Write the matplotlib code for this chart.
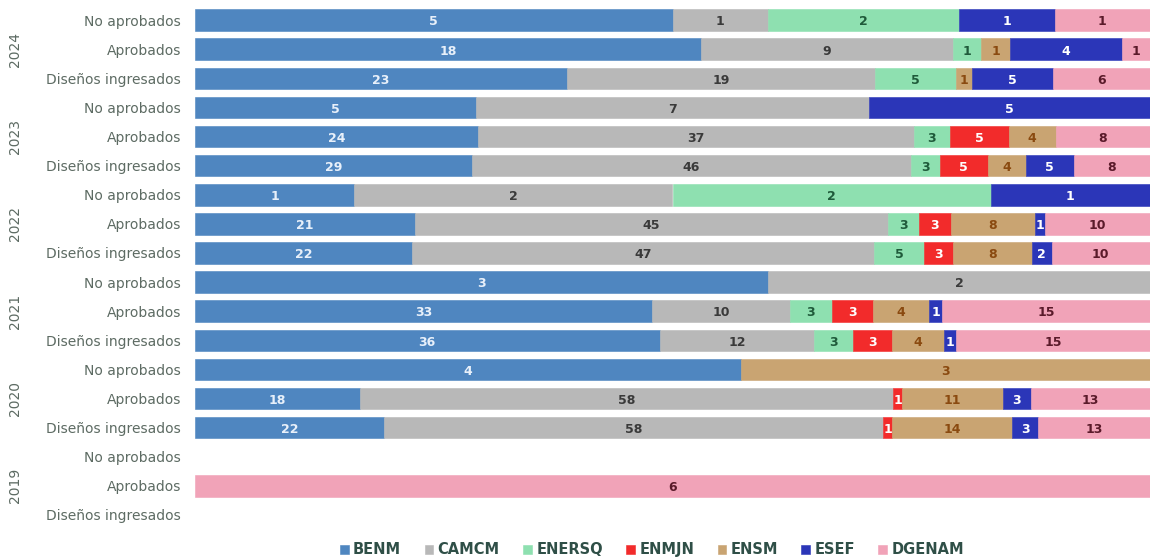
import matplotlib
matplotlib.use("Agg")
import matplotlib.pyplot as plt
import matplotlib.transforms as mtransforms
import numpy as np

# rows from top to bottom
years = ["2024", "2023", "2022", "2021", "2020", "2019"]
stages = ["No aprobados", "Aprobados", "Diseños ingresados"]

series = ["BENM", "CAMCM", "ENERSQ", "ENMJN", "ENSM", "ESEF", "DGENAM"]

# each list: one value per row (year x stage), top to bottom
BENM = [5, 18, 23, 5, 24, 29, 1, 21, 22, 3, 33, 36, 4, 18, 22, 0, 0, 0]
CAMCM = [1, 9, 19, 7, 37, 46, 2, 45, 47, 2, 10, 12, 0, 58, 58, 0, 0, 0]
ENERSQ = [2, 1, 5, 0, 3, 3, 2, 3, 5, 0, 3, 3, 0, 0, 0, 0, 0, 0]
ENMJN = [0, 0, 0, 0, 5, 5, 0, 3, 3, 0, 3, 3, 0, 1, 1, 0, 0, 0]
ENSM = [0, 1, 1, 0, 4, 4, 0, 8, 8, 0, 4, 4, 3, 11, 14, 0, 0, 0]
ESEF = [1, 4, 5, 5, 0, 5, 1, 1, 2, 0, 1, 1, 0, 3, 3, 0, 0, 0]
DGENAM = [1, 1, 6, 0, 8, 8, 0, 10, 10, 0, 15, 15, 0, 13, 13, 0, 6, 0]

colors = ["#4f86c0", "#b8b8b8", "#8ee0b0", "#f22b2b", "#c9a472", "#2b36b8", "#f1a3b8"]
text_colors = ["#e8f0fa", "#3a3a3a", "#1f5a3a", "#ffffff", "#8a4a10", "#ffffff", "#5a1a2a"]

data = np.array([BENM, CAMCM, ENERSQ, ENMJN, ENSM, ESEF, DGENAM], dtype=float)
totals = data.sum(axis=0)
share = np.divide(data, totals, out=np.zeros_like(data), where=totals > 0)

plt.rcParams['font.family'] = ['DejaVu Sans']

fig = plt.figure(figsize=(11.5, 5.6), dpi=100)
ax = fig.add_axes([195 / 1150, 0.0545, 1 - 195 / 1150, 0.9355])

n_rows = len(years) * len(stages)
y = np.arange(n_rows)
left = np.zeros(n_rows)
for i, name in enumerate(series):
    keep = data[i] > 0
    ax.barh(y[keep], share[i][keep], left=left[keep], height=0.74, color=colors[i],
            label=name, edgecolor=colors[i], linewidth=0.4)
    for r in y[keep]:
        ax.text(left[r] + share[i, r] / 2, r + 0.06, str(int(data[i, r])),
                ha="center", va="center", fontsize=9, fontweight="bold",
                color=text_colors[i])
    left += share[i]

ax.set_xlim(0, 1)
ax.set_ylim(n_rows - 0.5, -0.5)
ax.set_yticks(y)
ax.set_yticklabels(stages * len(years), fontsize=10, color="#5d6b63")
ax.tick_params(axis="y", length=0, pad=10)
ax.set_xticks([])
for s in ax.spines.values():
    s.set_visible(False)

trans = mtransforms.blended_transform_factory(fig.transFigure, ax.transData)
for k, yr in enumerate(years):
    ax.text(15 / 1150, k * 3 + 1, yr, transform=trans, rotation=90,
            ha="center", va="center", fontsize=10, color="#5d6b63")

fig.legend(loc="center", bbox_to_anchor=(0.567, 0.018), ncol=7, frameon=False,
           handlelength=0.6, handleheight=0.6, handletextpad=0.3, columnspacing=1.6,
           prop={"weight": "bold", "size": 10.5}, labelcolor="#2f4f47")

fig.savefig("out.png", dpi=100)
